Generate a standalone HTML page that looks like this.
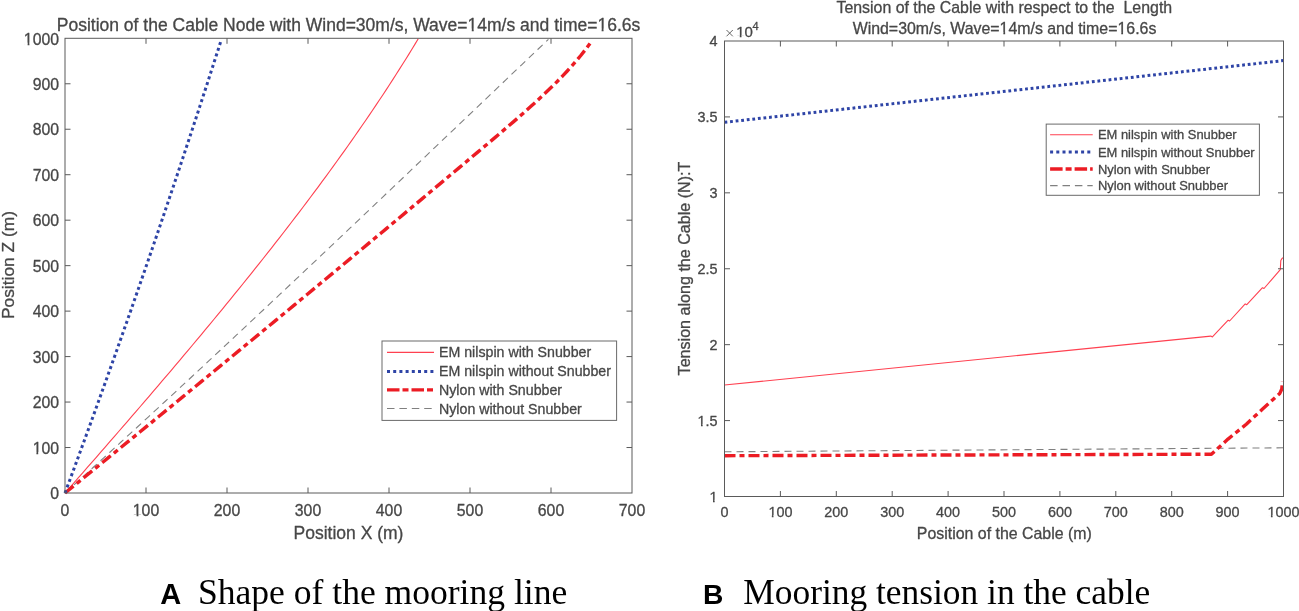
<!DOCTYPE html>
<html><head><meta charset="utf-8"><style>
html,body{margin:0;padding:0;background:#fff;width:1299px;height:611px;overflow:hidden;font-family:"Liberation Sans",sans-serif;}
svg{display:block;filter:blur(0.45px)}
svg text{stroke:#474747;stroke-width:0.3px;stroke-linejoin:round}
svg text.cap{stroke:none}
</style></head><body>
<svg width="1299" height="611" viewBox="0 0 1299 611">
<rect width="1299" height="611" fill="#fff"/>
<g fill="none" stroke-linejoin="round">
<polyline points="65.00,493.00 70.63,487.90 76.26,482.80 81.88,477.71 87.49,472.61 93.09,467.51 98.69,462.41 104.28,457.32 109.86,452.22 115.44,447.12 121.01,442.02 126.57,436.92 132.12,431.83 137.67,426.73 143.22,421.63 148.76,416.53 154.29,411.44 159.81,406.34 165.33,401.24 170.85,396.14 176.36,391.04 181.86,385.95 187.36,380.85 192.85,375.75 198.34,370.65 203.82,365.56 209.29,360.46 214.77,355.36 220.23,350.26 225.69,345.17 231.15,340.07 236.60,334.97 242.05,329.87 247.50,324.77 252.94,319.68 258.37,314.58 263.80,309.48 269.23,304.38 274.65,299.29 280.07,294.19 285.49,289.09 290.90,283.99 296.31,278.89 301.72,273.80 307.12,268.70 312.52,263.60 317.91,258.50 323.31,253.41 328.70,248.31 334.08,243.21 339.47,238.11 344.85,233.01 350.23,227.92 355.61,222.82 360.98,217.72 366.36,212.62 371.73,207.53 377.09,202.43 382.46,197.33 387.83,192.23 393.19,187.13 398.55,182.04 403.91,176.94 409.27,171.84 414.63,166.74 419.98,161.65 425.34,156.55 430.69,151.45 436.04,146.35 441.40,141.26 446.75,136.16 452.10,131.06 457.45,125.96 462.80,120.86 468.15,115.77 473.50,110.67 478.85,105.57 484.20,100.47 489.55,95.38 494.89,90.28 500.24,85.18 505.59,80.08 510.94,74.98 516.30,69.89 521.65,64.79 527.00,59.69 532.35,54.59 537.71,49.50 543.06,44.40 548.42,39.30" stroke="#808080" stroke-width="1.1" stroke-dasharray="7 5"/>
<polyline points="65.00,493.00 69.48,487.90 73.96,482.79 78.43,477.69 82.90,472.59 87.36,467.48 91.82,462.38 96.28,457.28 100.73,452.17 105.18,447.07 109.62,441.97 114.05,436.86 118.48,431.76 122.91,426.66 127.32,421.55 131.73,416.45 136.13,411.35 140.53,406.24 144.91,401.14 149.29,396.04 153.66,390.93 158.03,385.83 162.38,380.73 166.72,375.62 171.06,370.52 175.38,365.42 179.69,360.31 184.00,355.21 188.29,350.11 192.57,345.00 196.84,339.90 201.10,334.80 205.35,329.69 209.58,324.59 213.80,319.49 218.01,314.38 222.21,309.28 226.39,304.18 230.56,299.07 234.72,293.97 238.86,288.87 242.99,283.76 247.10,278.66 251.19,273.56 255.28,268.45 259.34,263.35 263.39,258.24 267.42,253.14 271.44,248.04 275.44,242.93 279.42,237.83 283.39,232.73 287.34,227.62 291.27,222.52 295.18,217.42 299.07,212.31 302.94,207.21 306.80,202.11 310.63,197.00 314.45,191.90 318.24,186.80 322.02,181.69 325.77,176.59 329.50,171.49 333.22,166.38 336.91,161.28 340.58,156.18 344.22,151.07 347.85,145.97 351.45,140.87 355.03,135.76 358.58,130.66 362.11,125.56 365.62,120.45 369.10,115.35 372.56,110.25 375.99,105.14 379.40,100.04 382.79,94.94 386.14,89.83 389.48,84.73 392.78,79.63 396.06,74.52 399.31,69.42 402.54,64.32 405.74,59.21 408.91,54.11 412.05,49.01 415.16,43.90 418.25,38.80" stroke="#ff4050" stroke-width="1.1"/>
<polyline points="65.00,493.00 71.25,487.92 77.49,482.83 83.74,477.75 89.98,472.66 96.22,467.58 102.46,462.49 108.69,457.41 114.92,452.33 121.15,447.24 127.38,442.16 133.60,437.07 139.83,431.99 146.05,426.90 152.26,421.82 158.48,416.74 164.69,411.65 170.90,406.57 177.11,401.48 183.31,396.40 189.51,391.31 195.71,386.23 201.90,381.15 208.10,376.06 214.29,370.98 220.47,365.89 226.66,360.81 232.84,355.72 239.02,350.64 245.19,345.56 251.37,340.47 257.54,335.39 263.70,330.30 269.87,325.22 276.03,320.13 282.18,315.05 288.34,309.97 294.49,304.88 300.64,299.80 306.78,294.71 312.92,289.63 319.06,284.54 325.20,279.46 331.33,274.38 337.46,269.29 343.58,264.21 349.70,259.12 355.82,254.04 361.94,248.96 368.05,243.87 374.15,238.79 380.26,233.70 386.36,228.62 392.46,223.53 398.55,218.45 404.64,213.37 410.73,208.28 416.81,203.20 422.89,198.11 428.96,193.03 435.04,187.94 441.10,182.86 447.17,177.78 453.23,172.69 459.29,167.61 465.34,162.52 471.39,157.44 477.43,152.35 483.47,147.27 489.51,142.19 495.53,137.10 501.52,132.02 507.47,126.93 513.37,121.85 519.22,116.76 524.99,111.68 530.68,106.60 536.27,101.51 541.76,96.43 547.14,91.34 552.38,86.26 557.50,81.17 562.46,76.09 567.26,71.01 571.89,65.92 576.33,60.84 580.59,55.75 584.64,50.67 588.47,45.58 592.08,40.50" stroke="#ec1c24" stroke-width="3.4" stroke-dasharray="11 4 5 4"/>
<polyline points="65.00,493.00 66.88,487.92 68.76,482.83 70.64,477.75 72.52,472.66 74.39,467.58 76.26,462.49 78.12,457.41 79.99,452.33 81.85,447.24 83.71,442.16 85.56,437.07 87.41,431.99 89.26,426.90 91.11,421.82 92.95,416.74 94.79,411.65 96.63,406.57 98.46,401.48 100.29,396.40 102.12,391.31 103.95,386.23 105.77,381.15 107.59,376.06 109.40,370.98 111.22,365.89 113.03,360.81 114.84,355.72 116.64,350.64 118.44,345.56 120.24,340.47 122.04,335.39 123.83,330.30 125.62,325.22 127.41,320.13 129.19,315.05 130.97,309.97 132.75,304.88 134.52,299.80 136.30,294.71 138.06,289.63 139.83,284.54 141.59,279.46 143.35,274.38 145.11,269.29 146.86,264.21 148.62,259.12 150.36,254.04 152.11,248.96 153.85,243.87 155.59,238.79 157.33,233.70 159.06,228.62 160.79,223.53 162.52,218.45 164.24,213.37 165.96,208.28 167.68,203.20 169.40,198.11 171.11,193.03 172.82,187.94 174.52,182.86 176.23,177.78 177.93,172.69 179.62,167.61 181.32,162.52 183.01,157.44 184.70,152.35 186.38,147.27 188.06,142.19 189.74,137.10 191.42,132.02 193.09,126.93 194.76,121.85 196.43,116.76 198.09,111.68 199.75,106.60 201.41,101.51 203.06,96.43 204.71,91.34 206.36,86.26 208.01,81.17 209.65,76.09 211.29,71.01 212.93,65.92 214.56,60.84 216.19,55.75 217.82,50.67 219.44,45.58 221.06,40.50" stroke="#2e44a6" stroke-width="3" stroke-dasharray="3 3"/>
</g>
<g stroke="#5a5a5a" stroke-width="1" fill="none">
<rect x="65.0" y="38.3" width="567.0" height="454.7"/>
<line x1="146.00" y1="493.0" x2="146.00" y2="487.5"/>
<line x1="146.00" y1="38.3" x2="146.00" y2="43.8"/>
<line x1="227.00" y1="493.0" x2="227.00" y2="487.5"/>
<line x1="227.00" y1="38.3" x2="227.00" y2="43.8"/>
<line x1="308.00" y1="493.0" x2="308.00" y2="487.5"/>
<line x1="308.00" y1="38.3" x2="308.00" y2="43.8"/>
<line x1="389.00" y1="493.0" x2="389.00" y2="487.5"/>
<line x1="389.00" y1="38.3" x2="389.00" y2="43.8"/>
<line x1="470.00" y1="493.0" x2="470.00" y2="487.5"/>
<line x1="470.00" y1="38.3" x2="470.00" y2="43.8"/>
<line x1="551.00" y1="493.0" x2="551.00" y2="487.5"/>
<line x1="551.00" y1="38.3" x2="551.00" y2="43.8"/>
<line x1="65.0" y1="447.53" x2="70.5" y2="447.53"/>
<line x1="632.0" y1="447.53" x2="626.5" y2="447.53"/>
<line x1="65.0" y1="402.06" x2="70.5" y2="402.06"/>
<line x1="632.0" y1="402.06" x2="626.5" y2="402.06"/>
<line x1="65.0" y1="356.59" x2="70.5" y2="356.59"/>
<line x1="632.0" y1="356.59" x2="626.5" y2="356.59"/>
<line x1="65.0" y1="311.12" x2="70.5" y2="311.12"/>
<line x1="632.0" y1="311.12" x2="626.5" y2="311.12"/>
<line x1="65.0" y1="265.65" x2="70.5" y2="265.65"/>
<line x1="632.0" y1="265.65" x2="626.5" y2="265.65"/>
<line x1="65.0" y1="220.18" x2="70.5" y2="220.18"/>
<line x1="632.0" y1="220.18" x2="626.5" y2="220.18"/>
<line x1="65.0" y1="174.71" x2="70.5" y2="174.71"/>
<line x1="632.0" y1="174.71" x2="626.5" y2="174.71"/>
<line x1="65.0" y1="129.24" x2="70.5" y2="129.24"/>
<line x1="632.0" y1="129.24" x2="626.5" y2="129.24"/>
<line x1="65.0" y1="83.77" x2="70.5" y2="83.77"/>
<line x1="632.0" y1="83.77" x2="626.5" y2="83.77"/>
</g>
<g fill="#474747" font-family="Liberation Sans, sans-serif" font-size="15.8">
<text x="65.00" y="516.2" text-anchor="middle">0</text>
<text x="146.00" y="516.2" text-anchor="middle">100</text>
<text x="227.00" y="516.2" text-anchor="middle">200</text>
<text x="308.00" y="516.2" text-anchor="middle">300</text>
<text x="389.00" y="516.2" text-anchor="middle">400</text>
<text x="470.00" y="516.2" text-anchor="middle">500</text>
<text x="551.00" y="516.2" text-anchor="middle">600</text>
<text x="632.00" y="516.2" text-anchor="middle">700</text>
<text x="59" y="499.20" text-anchor="end">0</text>
<text x="59" y="453.73" text-anchor="end">100</text>
<text x="59" y="408.26" text-anchor="end">200</text>
<text x="59" y="362.79" text-anchor="end">300</text>
<text x="59" y="317.32" text-anchor="end">400</text>
<text x="59" y="271.85" text-anchor="end">500</text>
<text x="59" y="226.38" text-anchor="end">600</text>
<text x="59" y="180.91" text-anchor="end">700</text>
<text x="59" y="135.44" text-anchor="end">800</text>
<text x="59" y="89.97" text-anchor="end">900</text>
<text x="59" y="44.50" text-anchor="end">1000</text>
</g>
<text x="348.5" y="30.6" text-anchor="middle" font-family="Liberation Sans, sans-serif" font-size="17.5" fill="#474747">Position of the Cable Node with Wind=30m/s, Wave=14m/s and time=16.6s</text>
<text x="348.5" y="539.2" text-anchor="middle" font-family="Liberation Sans, sans-serif" font-size="17.5" fill="#474747">Position X (m)</text>
<text transform="translate(13.8,265) rotate(-90)" text-anchor="middle" font-family="Liberation Sans, sans-serif" font-size="17.4" fill="#474747">Position Z (m)</text>
<rect x="382" y="341" width="234.60000000000002" height="79.39999999999998" fill="#fff" stroke="#6a6a6a" stroke-width="1"/>
<line x1="387" y1="352.4" x2="434" y2="352.4" stroke="#ff4050" stroke-width="1.1"/>
<line x1="387" y1="371.4" x2="434" y2="371.4" stroke="#2e44a6" stroke-width="3" stroke-dasharray="3 3.2"/>
<line x1="387" y1="389.9" x2="434" y2="389.9" stroke="#ec1c24" stroke-width="3.4" stroke-dasharray="12.5 3 6 3"/>
<line x1="387" y1="408.5" x2="434" y2="408.5" stroke="#808080" stroke-width="1.1" stroke-dasharray="7.5 4.9"/>
<g fill="#474747" font-family="Liberation Sans, sans-serif" font-size="14.2">
<text x="439" y="357.4">EM nilspin with Snubber</text>
<text x="439" y="376.4">EM nilspin without Snubber</text>
<text x="439" y="394.9">Nylon with Snubber</text>
<text x="439" y="413.5">Nylon without Snubber</text>
</g>
<g fill="none" stroke-linejoin="round">
<polyline points="724.50,451.80 1283.50,447.80" stroke="#808080" stroke-width="1.1" stroke-dasharray="7 5"/>
<polyline points="724.50,385.00 1210.80,336.10 1212.40,336.90 1228.20,320.20 1229.60,321.00 1245.20,303.90 1246.80,304.70 1262.50,287.70 1264.00,288.50 1280.30,269.60 1280.80,260.50 1282.00,258.40 1283.50,257.60" stroke="#ff4050" stroke-width="1.1"/>
<polyline points="724.50,455.70 1211.40,454.20 1228.00,439.10 1246.30,424.20 1262.30,409.30 1279.80,393.40 1281.80,389.00 1282.50,381.10" stroke="#ec1c24" stroke-width="3.4" stroke-dasharray="11 4 5 4"/>
<polyline points="724.50,122.30 1283.50,60.60" stroke="#2e44a6" stroke-width="3" stroke-dasharray="2.8 2.8"/>
</g>
<g stroke="#5a5a5a" stroke-width="1" fill="none">
<rect x="724.5" y="41.0" width="559.0" height="455.5"/>
<line x1="780.40" y1="496.5" x2="780.40" y2="491.0"/>
<line x1="780.40" y1="41.0" x2="780.40" y2="46.5"/>
<line x1="836.30" y1="496.5" x2="836.30" y2="491.0"/>
<line x1="836.30" y1="41.0" x2="836.30" y2="46.5"/>
<line x1="892.20" y1="496.5" x2="892.20" y2="491.0"/>
<line x1="892.20" y1="41.0" x2="892.20" y2="46.5"/>
<line x1="948.10" y1="496.5" x2="948.10" y2="491.0"/>
<line x1="948.10" y1="41.0" x2="948.10" y2="46.5"/>
<line x1="1004.00" y1="496.5" x2="1004.00" y2="491.0"/>
<line x1="1004.00" y1="41.0" x2="1004.00" y2="46.5"/>
<line x1="1059.90" y1="496.5" x2="1059.90" y2="491.0"/>
<line x1="1059.90" y1="41.0" x2="1059.90" y2="46.5"/>
<line x1="1115.80" y1="496.5" x2="1115.80" y2="491.0"/>
<line x1="1115.80" y1="41.0" x2="1115.80" y2="46.5"/>
<line x1="1171.70" y1="496.5" x2="1171.70" y2="491.0"/>
<line x1="1171.70" y1="41.0" x2="1171.70" y2="46.5"/>
<line x1="1227.60" y1="496.5" x2="1227.60" y2="491.0"/>
<line x1="1227.60" y1="41.0" x2="1227.60" y2="46.5"/>
<line x1="724.5" y1="420.58" x2="730.0" y2="420.58"/>
<line x1="1283.5" y1="420.58" x2="1278.0" y2="420.58"/>
<line x1="724.5" y1="344.67" x2="730.0" y2="344.67"/>
<line x1="1283.5" y1="344.67" x2="1278.0" y2="344.67"/>
<line x1="724.5" y1="268.75" x2="730.0" y2="268.75"/>
<line x1="1283.5" y1="268.75" x2="1278.0" y2="268.75"/>
<line x1="724.5" y1="192.83" x2="730.0" y2="192.83"/>
<line x1="1283.5" y1="192.83" x2="1278.0" y2="192.83"/>
<line x1="724.5" y1="116.92" x2="730.0" y2="116.92"/>
<line x1="1283.5" y1="116.92" x2="1278.0" y2="116.92"/>
</g>
<g fill="#474747" font-family="Liberation Sans, sans-serif" font-size="14.4">
<text x="724.50" y="516.8" text-anchor="middle">0</text>
<text x="780.40" y="516.8" text-anchor="middle">100</text>
<text x="836.30" y="516.8" text-anchor="middle">200</text>
<text x="892.20" y="516.8" text-anchor="middle">300</text>
<text x="948.10" y="516.8" text-anchor="middle">400</text>
<text x="1004.00" y="516.8" text-anchor="middle">500</text>
<text x="1059.90" y="516.8" text-anchor="middle">600</text>
<text x="1115.80" y="516.8" text-anchor="middle">700</text>
<text x="1171.70" y="516.8" text-anchor="middle">800</text>
<text x="1227.60" y="516.8" text-anchor="middle">900</text>
<text x="1283.50" y="516.8" text-anchor="middle">1000</text>
<text x="717.6" y="501.50" text-anchor="end">1</text>
<text x="717.6" y="425.58" text-anchor="end">1.5</text>
<text x="717.6" y="349.67" text-anchor="end">2</text>
<text x="717.6" y="273.75" text-anchor="end">2.5</text>
<text x="717.6" y="197.83" text-anchor="end">3</text>
<text x="717.6" y="121.92" text-anchor="end">3.5</text>
<text x="717.6" y="46.00" text-anchor="end">4</text>
</g>
<g stroke="#555" stroke-width="0.9"><line x1="726.5" y1="30" x2="732.8" y2="36.3"/><line x1="732.8" y1="30" x2="726.5" y2="36.3"/></g>
<text x="736.2" y="37.2" font-family="Liberation Sans, sans-serif" font-size="15" fill="#474747">10</text>
<text x="752.6" y="29.6" font-family="Liberation Sans, sans-serif" font-size="11" fill="#474747">4</text>
<text x="1004.3" y="12.5" text-anchor="middle" font-family="Liberation Sans, sans-serif" font-size="15.9" fill="#474747" xml:space="preserve">Tension of the Cable with respect to the  Length</text>
<text x="1004.5" y="33.8" text-anchor="middle" font-family="Liberation Sans, sans-serif" font-size="15.9" fill="#474747">Wind=30m/s, Wave=14m/s and time=16.6s</text>
<text x="1004.3" y="538.5" text-anchor="middle" font-family="Liberation Sans, sans-serif" font-size="15.9" fill="#474747">Position of the Cable (m)</text>
<text transform="translate(689.5,268.5) rotate(-90)" text-anchor="middle" font-family="Liberation Sans, sans-serif" font-size="16.1" fill="#474747">Tension along the Cable (N):T</text>
<rect x="1046.2" y="124.1" width="213.20000000000005" height="71.20000000000002" fill="#fff" stroke="#6a6a6a" stroke-width="1"/>
<line x1="1050.1" y1="134.8" x2="1092.7" y2="134.8" stroke="#ff4050" stroke-width="1.1"/>
<line x1="1050.1" y1="152" x2="1092.7" y2="152" stroke="#2e44a6" stroke-width="3" stroke-dasharray="3 3.2"/>
<line x1="1050.1" y1="169" x2="1092.7" y2="169" stroke="#ec1c24" stroke-width="3.4" stroke-dasharray="12.5 3 6 3"/>
<line x1="1050.1" y1="185.6" x2="1092.7" y2="185.6" stroke="#808080" stroke-width="1.1" stroke-dasharray="7.5 4.9"/>
<g fill="#474747" font-family="Liberation Sans, sans-serif" font-size="12.95">
<text x="1097.9" y="139.4">EM nilspin with Snubber</text>
<text x="1097.9" y="156.6">EM nilspin without Snubber</text>
<text x="1097.9" y="173.6">Nylon with Snubber</text>
<text x="1097.9" y="190.2">Nylon without Snubber</text>
</g>
<text class="cap" x="160.2" y="603.5" font-family="Liberation Sans, sans-serif" font-weight="bold" font-size="29" fill="#000">A</text>
<text class="cap" x="198" y="603.5" font-family="Liberation Serif, serif" font-size="35.55" fill="#000">Shape of the mooring line</text>
<text class="cap" x="702.9" y="603.5" font-family="Liberation Sans, sans-serif" font-weight="bold" font-size="28.2" fill="#000">B</text>
<text class="cap" x="743.3" y="603.5" font-family="Liberation Serif, serif" font-size="35.4" fill="#000">Mooring tension in the cable</text>
<g fill="#fff"><rect x="133.12" y="514.42" width="3.47" height="3.38"/><rect x="138.39" y="514.42" width="3.35" height="3.38"/><rect x="32.94" y="451.95" width="3.47" height="3.38"/><rect x="38.21" y="451.95" width="3.35" height="3.38"/><rect x="24.15" y="42.72" width="3.47" height="3.38"/><rect x="29.41" y="42.72" width="3.35" height="3.38"/><rect x="467.99" y="28.69" width="3.77" height="3.51"/><rect x="473.70" y="28.69" width="3.63" height="3.51"/><rect x="597.85" y="28.69" width="3.77" height="3.51"/><rect x="603.56" y="28.69" width="3.63" height="3.51"/><rect x="768.59" y="515.12" width="3.22" height="3.28"/><rect x="773.49" y="515.12" width="3.11" height="3.28"/><rect x="1267.69" y="515.12" width="3.22" height="3.28"/><rect x="1272.59" y="515.12" width="3.11" height="3.28"/><rect x="709.78" y="499.82" width="3.22" height="3.28"/><rect x="714.68" y="499.82" width="3.11" height="3.28"/><rect x="697.78" y="423.90" width="3.22" height="3.28"/><rect x="702.68" y="423.90" width="3.11" height="3.28"/><rect x="736.44" y="35.48" width="3.33" height="3.32"/><rect x="741.50" y="35.48" width="3.21" height="3.32"/><rect x="999.86" y="32.01" width="3.49" height="3.39"/><rect x="1005.15" y="32.01" width="3.36" height="3.39"/><rect x="1117.76" y="32.01" width="3.49" height="3.39"/><rect x="1123.06" y="32.01" width="3.36" height="3.39"/></g>
</svg>
</body></html>
